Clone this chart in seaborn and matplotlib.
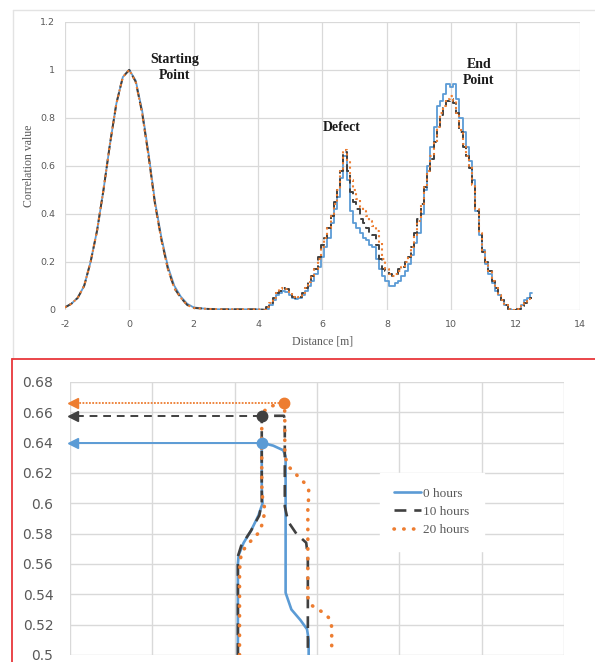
import numpy as np
import matplotlib
matplotlib.use('Agg')
import matplotlib.pyplot as plt
import seaborn as sns
from matplotlib.lines import Line2D

## ============================================================

sns.set_style('white')
plt.rcParams['font.family'] = ['DejaVu Sans']

BLUE = '#5B9BD5'
DARK = '#404040'
ORANGE = '#ED7D31'
GRID = '#D9D9D9'
TXT = '#595959'

## ============================================================
## top panel: correlation along the cable

dist_smooth = [-2.0, -1.8, -1.6, -1.4, -1.2, -1.0, -0.8, -0.6, -0.4, -0.2, 0.0,
               0.2, 0.4, 0.6, 0.8, 1.0, 1.2, 1.4, 1.6, 1.8, 2.0, 2.4, 2.8, 3.2,
               3.6, 4.0, 4.2]
corr_0h_smooth = [0.01, 0.025, 0.05, 0.10, 0.20, 0.33, 0.50, 0.69, 0.86, 0.97, 1.00,
                  0.955, 0.83, 0.65, 0.45, 0.30, 0.18, 0.10, 0.055, 0.025, 0.01, 0.004,
                  0.002, 0.002, 0.002, 0.002, 0.0]
corr_10h_smooth = [0.01, 0.025, 0.05, 0.10, 0.20, 0.33, 0.50, 0.69, 0.86, 0.97, 1.00,
                   0.95, 0.82, 0.64, 0.44, 0.29, 0.17, 0.09, 0.05, 0.02, 0.008, 0.004,
                   0.002, 0.002, 0.002, 0.002, 0.0]
corr_20h_smooth = [0.01, 0.025, 0.05, 0.10, 0.20, 0.33, 0.50, 0.69, 0.86, 0.97, 1.00,
                   0.95, 0.82, 0.64, 0.44, 0.29, 0.17, 0.09, 0.05, 0.02, 0.008, 0.004,
                   0.002, 0.002, 0.002, 0.002, 0.0]

dist_step = np.round(np.arange(4.2, 12.51, 0.1), 1)
corr_0h_step = [0.0, 0.005, 0.02, 0.04, 0.06, 0.07, 0.08, 0.075, 0.06, 0.05,
                0.045, 0.05, 0.06, 0.08, 0.10, 0.12, 0.15, 0.18, 0.22, 0.26,
                0.30, 0.36, 0.42, 0.47, 0.55, 0.64, 0.54, 0.41, 0.36, 0.34,
                0.32, 0.30, 0.29, 0.27, 0.26, 0.21, 0.17, 0.14, 0.12, 0.10,
                0.10, 0.11, 0.12, 0.14, 0.16, 0.19, 0.23, 0.28, 0.32, 0.40,
                0.50, 0.60, 0.68, 0.76, 0.85, 0.87, 0.90, 0.94, 0.93, 0.94,
                0.88, 0.80, 0.74, 0.68, 0.62, 0.54, 0.41, 0.31, 0.25, 0.19,
                0.15, 0.11, 0.08, 0.06, 0.04, 0.02, 0.005, 0.0, 0.0, 0.005,
                0.02, 0.04, 0.05, 0.07]
corr_10h_step = [0.0, 0.01, 0.03, 0.05, 0.07, 0.08, 0.09, 0.085, 0.07, 0.055,
                 0.05, 0.055, 0.07, 0.09, 0.12, 0.14, 0.17, 0.22, 0.27, 0.30,
                 0.34, 0.39, 0.45, 0.50, 0.58, 0.657, 0.58, 0.49, 0.45, 0.42,
                 0.38, 0.36, 0.34, 0.32, 0.31, 0.27, 0.21, 0.17, 0.16, 0.15,
                 0.14, 0.15, 0.17, 0.18, 0.20, 0.22, 0.26, 0.32, 0.38, 0.44,
                 0.51, 0.58, 0.63, 0.70, 0.76, 0.81, 0.84, 0.87, 0.88, 0.86,
                 0.82, 0.74, 0.68, 0.64, 0.59, 0.52, 0.41, 0.32, 0.24, 0.20,
                 0.16, 0.12, 0.09, 0.06, 0.04, 0.02, 0.005, 0.0, 0.0, 0.005,
                 0.015, 0.03, 0.04, 0.05]
corr_20h_step = [0.0, 0.01, 0.03, 0.05, 0.07, 0.085, 0.09, 0.085, 0.07, 0.055,
                 0.05, 0.055, 0.07, 0.09, 0.115, 0.14, 0.17, 0.21, 0.26, 0.30,
                 0.34, 0.39, 0.44, 0.50, 0.58, 0.665, 0.62, 0.54, 0.50, 0.46,
                 0.43, 0.41, 0.39, 0.37, 0.35, 0.33, 0.28, 0.21, 0.17, 0.15,
                 0.14, 0.15, 0.16, 0.18, 0.20, 0.22, 0.26, 0.31, 0.37, 0.44,
                 0.51, 0.58, 0.64, 0.70, 0.76, 0.82, 0.85, 0.88, 0.89, 0.87,
                 0.82, 0.75, 0.69, 0.64, 0.60, 0.52, 0.42, 0.32, 0.24, 0.20,
                 0.16, 0.12, 0.09, 0.06, 0.04, 0.02, 0.005, 0.0, 0.0, 0.005,
                 0.015, 0.03, 0.045, 0.055]

labels_top = [('Starting\nPoint', 1.4, 1.01), ('Defect', 6.6, 0.76), ('End\nPoint', 10.85, 0.99)]

## ============================================================
## bottom panel: zoom on the defect peak

zoom_dist_0h = [6.604, 6.604, 6.605, 6.611, 6.620, 6.629, 6.634, 6.633, 6.633,
                6.647, 6.659, 6.662, 6.662, 6.662, 6.669, 6.680, 6.688, 6.690, 6.690]
zoom_corr_0h = [0.500, 0.560, 0.566, 0.574, 0.582, 0.592, 0.600, 0.610, 0.640,
                0.638, 0.635, 0.631, 0.620, 0.541, 0.530, 0.523, 0.517, 0.510, 0.500]
zoom_dist_10h = [6.604, 6.604, 6.608, 6.620, 6.630, 6.633, 6.633, 6.660, 6.661,
                 6.661, 6.665, 6.675, 6.687, 6.689, 6.689]
zoom_corr_10h = [0.500, 0.565, 0.572, 0.582, 0.592, 0.600, 0.6577, 0.6577, 0.655,
                 0.598, 0.588, 0.580, 0.574, 0.565, 0.500]
zoom_dist_20h = [6.606, 6.606, 6.608, 6.615, 6.623, 6.630, 6.634, 6.637, 6.634,
                 6.633, 6.633, 6.641, 6.660, 6.661, 6.661, 6.666, 6.672, 6.679,
                 6.685, 6.690, 6.690, 6.689, 6.689, 6.693, 6.701, 6.709, 6.717,
                 6.718, 6.718]
zoom_corr_20h = [0.500, 0.556, 0.567, 0.5725, 0.577, 0.581, 0.587, 0.5956, 0.603,
                 0.612, 0.659, 0.6636, 0.6662, 0.660, 0.631, 0.624, 0.6207, 0.6166,
                 0.6134, 0.6087, 0.6035, 0.5976, 0.538, 0.533, 0.530, 0.5277, 0.523,
                 0.5178, 0.500]

peak_dist = [6.633, 6.633, 6.660]
peak_corr = [0.640, 0.6577, 0.6662]
hours = ['0 hours', '10 hours', '20 hours']

## ============================================================

fig = plt.figure(figsize=(5.95, 6.62), dpi=100)

## ===============

ax = fig.add_axes([0.109, 0.532, 0.866, 0.435])

top_styles = [
	dict(color=BLUE, linestyle='-', linewidth=1.3),
	dict(color=DARK, linestyle=(0, (4.5, 2.5)), linewidth=1.4),
	dict(color=ORANGE, linestyle=(0, (1, 1.6)), linewidth=1.5),
]
smooth = [corr_0h_smooth, corr_10h_smooth, corr_20h_smooth]
step = [corr_0h_step, corr_10h_step, corr_20h_step]
for i in range(3):
	sns.lineplot(x=dist_smooth, y=smooth[i], ax=ax, sort=False, estimator=None,
			zorder=3+i, **top_styles[i])
	sns.lineplot(x=dist_step, y=step[i], ax=ax, sort=False, estimator=None,
			drawstyle='steps-mid', zorder=3+i, **top_styles[i])

ax.set_xlim(-2, 14)
ax.set_ylim(0, 1.2)
ax.set_xticks(np.arange(-2, 15, 2))
ax.set_yticks(np.arange(0, 1.21, 0.2))
ax.set_xticklabels(['-2', '0', '2', '4', '6', '8', '10', '12', '14'])
ax.set_yticklabels(['0', '0.2', '0.4', '0.6', '0.8', '1', '1.2'])
ax.grid(True, color=GRID, linewidth=0.9)
ax.tick_params(length=0, labelsize=6.8, labelcolor=TXT, pad=7)
for s in ax.spines.values():
	s.set_visible(False)
ax.set_xlabel('Distance [m]', family='Liberation Serif', fontsize=8.5, color=TXT, labelpad=5)
ax.set_ylabel('Correlation value', family='Liberation Serif', fontsize=8.5, color=TXT, labelpad=4)
for txt, x, y in labels_top:
	ax.text(x, y, txt, ha='center', va='center', family='Liberation Serif',
			fontweight='bold', fontsize=10, color='#1a1a1a', linespacing=1.3)

## ===============

bx = fig.add_axes([0.1176, 0.0106, 0.830, 0.4124])

zoom_x = [zoom_dist_0h, zoom_dist_10h, zoom_dist_20h]
zoom_y = [zoom_corr_0h, zoom_corr_10h, zoom_corr_20h]
bot_styles = [
	dict(color=BLUE, linestyle='-', linewidth=1.9),
	dict(color=DARK, linestyle=(0, (4.5, 3)), linewidth=1.9),
	dict(color=ORANGE, linestyle=(0, (0.1, 2.6)), linewidth=2.6, dash_capstyle='round'),
]
for i in range(3):
	sns.lineplot(x=zoom_x[i], y=zoom_y[i], ax=bx, sort=False, estimator=None,
			label=hours[i], zorder=3+i, **bot_styles[i])

bx.set_xlim(6.4, 7.0)
bx.set_ylim(0.5, 0.68)

# arrows from the peak back to the axis
x_left = bx.get_xlim()[0]
head = 0.0075
arrow_styles = [
	dict(color=BLUE, linestyle='-', linewidth=1.4),
	dict(color=DARK, linestyle=(0, (4, 3)), linewidth=1.4),
	dict(color=ORANGE, linestyle=(0, (1, 0.8)), linewidth=1.3),
]
for i in range(3):
	c = arrow_styles[i]['color']
	bx.plot([x_left + head, peak_dist[i]], [peak_corr[i], peak_corr[i]], zorder=6, **arrow_styles[i])
	bx.plot([x_left + head * 0.55], [peak_corr[i]], marker='<', markersize=7, color=c,
			linestyle='none', zorder=7, clip_on=False)
	bx.plot([peak_dist[i]], [peak_corr[i]], marker='o', markersize=7.5, color=c,
			linestyle='none', zorder=8)

bx.set_xticks(np.arange(6.4, 7.01, 0.1))
bx.set_xticklabels([])
bx.set_yticks(np.arange(0.5, 0.681, 0.02))
bx.set_yticklabels(['0.5', '0.52', '0.54', '0.56', '0.58', '0.6', '0.62', '0.64', '0.66', '0.68'])
bx.grid(True, color=GRID, linewidth=1.0)
bx.tick_params(length=0, labelsize=10, labelcolor=TXT, pad=12)
for s in bx.spines.values():
	s.set_visible(False)
bx.set_xlabel('')
bx.set_ylabel('')

leg = bx.legend(loc='center', bbox_to_anchor=(0.733, 0.524), frameon=True, fancybox=False,
		edgecolor='white', framealpha=1.0, handlelength=2.0, handletextpad=0.2,
		labelspacing=0.45, borderpad=1.1,
		prop={'family': 'Liberation Serif', 'size': 9.5})
for t in leg.get_texts():
	t.set_color(TXT)

## ===============
## frames of the two pasted pictures

fig.add_artist(Line2D([13/595, 1], [1-10/662, 1-10/662], transform=fig.transFigure, color='#E3E3E3', lw=1))
fig.add_artist(Line2D([13/595, 13/595], [1-10/662, 1-359/662], transform=fig.transFigure, color='#E3E3E3', lw=1))
fig.add_artist(Line2D([12/595, 1], [1-359/662, 1-359/662], transform=fig.transFigure, color='#E8373A', lw=1.3))
fig.add_artist(Line2D([12/595, 12/595], [1-359/662, 0], transform=fig.transFigure, color='#E8373A', lw=1.3))

fig.savefig('out.png', dpi=100)
